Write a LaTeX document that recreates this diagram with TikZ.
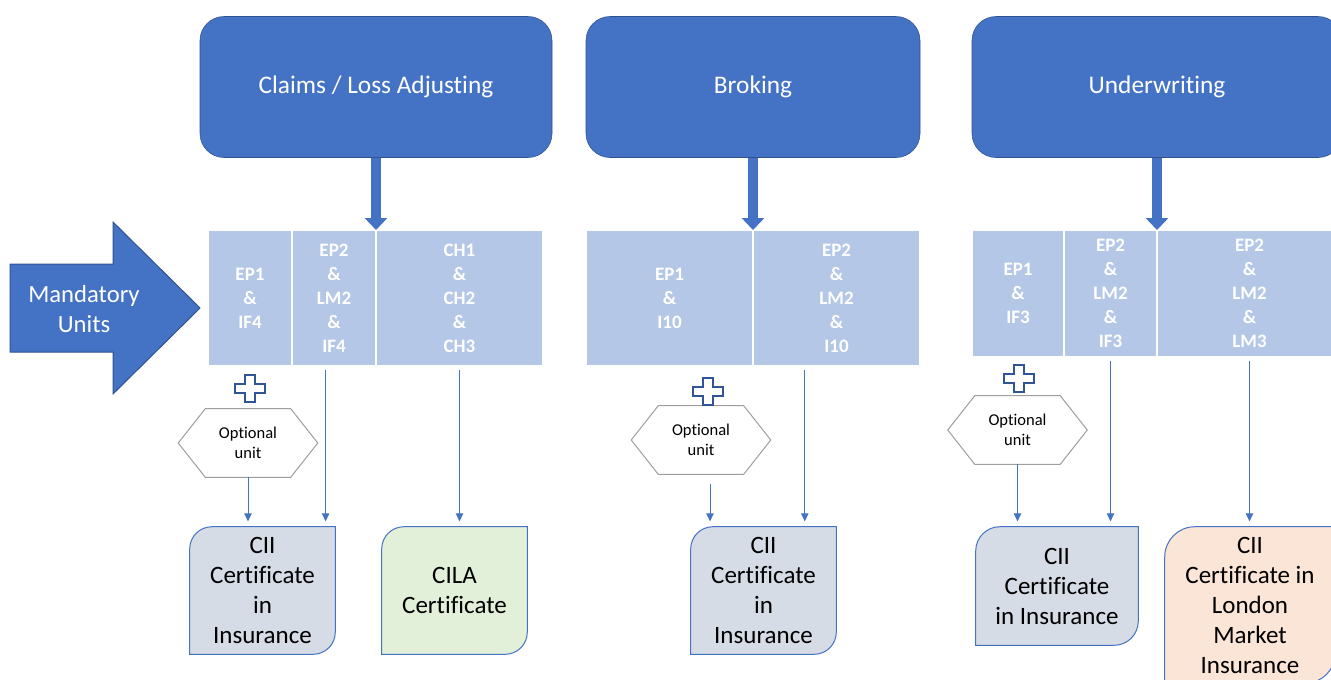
\documentclass[tikz,border=0pt]{standalone}
\usepackage{fontspec}
\setmainfont{Carlito}[Ligatures=NoCommon]
\usetikzlibrary{arrows.meta,calc,backgrounds}

\definecolor{hdrblue}{HTML}{4472C4}
\definecolor{hdredge}{HTML}{2F528F}
\definecolor{unitblue}{HTML}{B4C7E7}
\definecolor{crossblue}{HTML}{2F5597}
\definecolor{hexgray}{HTML}{9E9E9E}
\definecolor{certgray}{HTML}{D6DCE5}
\definecolor{certgreen}{HTML}{E2F0D9}
\definecolor{certpeach}{HTML}{FBE5D6}

\newcommand{\certframe}[3]{%
  \filldraw[draw=hdrblue,fill=#2,line width=0.75pt]
    ($(#1.north west)+(0,#3)$) .. controls ($(#1.north west)+(0,0.45*#3)$) and ($(#1.north west)+(0.45*#3,0)$) .. ($(#1.north west)+(#3,0)$)
    -- (#1.north east)
    -- ($(#1.south east)+(0,-#3)$) .. controls ($(#1.south east)+(0,-0.45*#3)$) and ($(#1.south east)+(-0.45*#3,0)$) .. ($(#1.south east)+(-#3,0)$)
    -- (#1.south west) -- cycle;}
\newcommand{\optframe}[1]{%
  \filldraw[draw=hexgray,fill=white,line width=0.75pt]
    (#1.west) -- ($(#1.north west)+(27,0)$) -- ($(#1.north east)+(-27,0)$)
    -- (#1.east) -- ($(#1.south east)+(-27,0)$) -- ($(#1.south west)+(27,0)$) -- cycle;}

\begin{document}
\begin{tikzpicture}[x=0.75pt,y=-0.75pt]
\tikzset{stream/.style={draw=hdredge,fill=hdrblue,rounded corners=18pt,text=white,minimum height=105.75pt,font=\fontsize{19}{23}\selectfont}}
\tikzset{unit/.style={fill=unitblue,draw=white,line width=1.1pt,text=white,align=center,inner sep=0pt,outer sep=0pt,anchor=north west,minimum height=102pt,font=\bfseries\fontsize{14.25}{18}\selectfont}}
\tikzset{feed/.style={draw=hdrblue,line width=7.5pt,-{Triangle[width=16.5pt,length=9pt]}}}
\tikzset{link/.style={draw=hdrblue,line width=0.75pt,-{Triangle[width=5.5pt,length=6pt]},shorten <=3pt,shorten >=4pt}}
\tikzset{optional/.style={align=center,minimum width=104.25pt,minimum height=51pt,inner sep=0pt,font=\fontsize{12.4}{15}\selectfont}}
\tikzset{cert/.style={align=center,inner sep=0pt,font=\fontsize{18.75}{22.5}\selectfont}}
\tikzset{plussign/.pic={\filldraw[draw=crossblue,fill=white,line width=1.5pt] (-5,-13.5) -- (5,-13.5) -- (5,-4.5) -- (15,-4.5) -- (15,4.5) -- (5,4.5) -- (5,13.5) -- (-5,13.5) -- (-5,4.5) -- (-15,4.5) -- (-15,-4.5) -- (-5,-4.5) -- cycle;}}

\useasboundingbox (0,0) rectangle (1331,679);
\clip (0,0) rectangle (1331,679);

\node[stream,minimum width=264pt] (claims) at (376,87) {Claims / Loss Adjusting};
\node[stream,minimum width=250.5pt] (broking) at (753,87) {Broking};
\node[stream,minimum width=277.5pt] (underwriting) at (1157,87) {Underwriting};

\filldraw[fill=hdrblue,draw=hdredge,line width=0.75pt] (10,264) -- (113,264) -- (113,222) -- (200,308) -- (113,394) -- (113,352) -- (10,352) -- cycle;
\node[text=white,align=center,font=\fontsize{18.5}{22.5}\selectfont] (mandatory) at (84,309) {Mandatory\\Units};

\node[unit,minimum width=63pt] (c11) at (208,230) {EP1\\\&\\IF4};
\node[unit,minimum width=63pt] (c12) at (c11.north east) {EP2\\\&\\LM2\\\&\\IF4};
\node[unit,minimum width=125.25pt] (c13) at (c12.north east) {CH1\\\&\\CH2\\\&\\CH3};

\node[unit,minimum width=125.25pt] (b1) at (586,230) {EP1\\\&\\I10};
\node[unit,minimum width=125.25pt] (b2) at (b1.north east) {EP2\\\&\\LM2\\\&\\I10};

\node[unit,minimum width=69pt,minimum height=95.25pt] (u1) at (972,230) {EP1\\\&\\IF3};
\node[unit,minimum width=69.75pt,minimum height=95.25pt] (u2) at (u1.north east) {EP2\\\&\\LM2\\\&\\IF3};
\node[unit,minimum width=138.75pt,minimum height=95.25pt] (u3) at (u2.north east) {EP2\\\&\\LM2\\\&\\LM3};

\draw[feed] (claims.south) -- (c12.north east);
\draw[feed] (broking.south) -- (b1.north east);
\draw[feed] (underwriting.south) -- (u2.north east);

\pic at (250,388) {plussign};
\pic at (708,391) {plussign};
\pic at (1019,378) {plussign};

\node[optional] (opt1) at (248,443) {Optional\\unit};
\node[optional] (opt2) at (701,440) {Optional\\unit};
\node[optional] (opt3) at (1017.5,430) {Optional\\unit};

\node[cert,minimum width=108.75pt,minimum height=95.25pt] (cii1) at (262.5,590.5) {CII\\Certificate\\in\\Insurance};
\node[cert,minimum width=108.75pt,minimum height=95.25pt] (cila) at (454.5,590.5) {CILA\\Certificate};
\node[cert,minimum width=108.75pt,minimum height=95.25pt] (cii2) at (763.5,590.5) {CII\\Certificate\\in\\Insurance};
\node[cert,minimum width=121.5pt,minimum height=88.5pt] (cii3) at (1057,586) {CII\\Certificate\\in Insurance};
\node[cert,minimum width=127.5pt,minimum height=117pt] (lmcert) at (1250,605) {CII\\Certificate in\\London\\Market\\Insurance};

\begin{scope}[on background layer]
\optframe{opt1}
\optframe{opt2}
\optframe{opt3}
\certframe{cii1}{certgray}{22}
\certframe{cila}{certgreen}{22}
\certframe{cii2}{certgray}{22}
\certframe{cii3}{certgray}{24}
\certframe{lmcert}{certpeach}{30}
\end{scope}

\coordinate (l12) at ($(c12.south west)!0.4!(c12.south east)$);
\coordinate (lo2) at ($(opt2.south)+(9,0)$);
\coordinate (lb2) at ($(b2.south west)!0.31!(b2.south east)$);

\draw[link,shorten <=0pt] (opt1.south) -- (opt1.south |- cii1.north);
\draw[link] (l12) -- (l12 |- cii1.north);
\draw[link] (c13.south) -- (c13.south |- cila.north);
\draw[link,shorten <=7pt] (lo2) -- (lo2 |- cii2.north);
\draw[link] (lb2) -- (lb2 |- cii2.north);
\draw[link,shorten <=0pt] (opt3.south) -- (opt3.south |- cii3.north);
\draw[link] (u2.south) -- (u2.south |- cii3.north);
\draw[link] (u3.south) -- (u3.south |- lmcert.north);

\end{tikzpicture}
\end{document}
